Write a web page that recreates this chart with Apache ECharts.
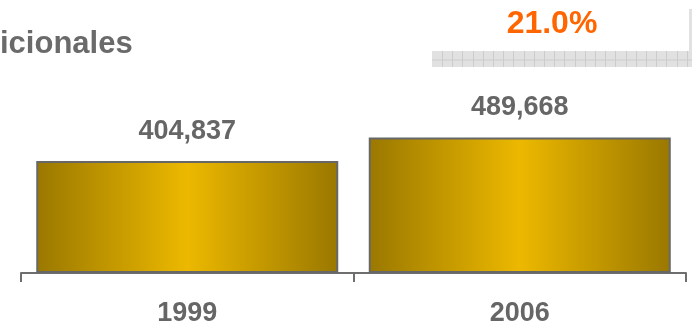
<!DOCTYPE html>
<html>
<head>
<meta charset="utf-8">
<script src="https://cdn.jsdelivr.net/npm/echarts@6/dist/echarts.min.js"></script>
<style>
  html, body { margin: 0; padding: 0; background: #fff; }
  #chart { width: 692px; height: 329px; }
</style>
</head>
<body>
<div id="chart"></div>
<script>
// datos
const years = ['1999', '2006'];
const empleos = [404837, 489668];
const crecimiento = '21.0%';
const tituloTxt = 'icionales';

const chart = echarts.init(document.getElementById('chart'));

// fondo cuadriculado gris (decoracion arriba a la derecha)
const deco = [
  { type: 'rect', shape: { x: 432, y: 51, width: 260, height: 16 }, style: { fill: '#e1e1e1' }, silent: true },
  { type: 'rect', shape: { x: 689, y: 9, width: 3, height: 42 }, style: { fill: '#e1e1e1' }, silent: true },
  { type: 'line', shape: { x1: 432, y1: 60, x2: 692, y2: 60 }, style: { stroke: '#cccccc', lineWidth: 1 }, silent: true }
];
for (let x = 442; x < 692; x += 10.2) {
  deco.push({ type: 'line', shape: { x1: Math.round(x) + 0.5, y1: 51, x2: Math.round(x) + 0.5, y2: 67 }, style: { stroke: '#cccccc', lineWidth: 1 }, silent: true });
}

const option = {
  animation: false,
  backgroundColor: '#ffffff',
  textStyle: { fontFamily: 'Liberation Sans, Arial, sans-serif' },
  graphic: deco.concat([
    {
      type: 'text', left: 0, top: 29,
      style: { text: tituloTxt, fill: '#6a6a6a', font: 'bold 31px "Liberation Sans", Arial, sans-serif' }
    },
    {
      type: 'text', x: 552, y: 24,
      style: { text: crecimiento, fill: '#ff6600', align: 'center', verticalAlign: 'middle', font: 'bold 32px "Liberation Sans", Arial, sans-serif' }
    }
  ]),
  grid: { left: 21, right: 6, top: 93, bottom: 56 },
  xAxis: {
    type: 'category',
    data: years,
    axisLine: { lineStyle: { color: '#6e6e6e', width: 2 } },
    axisTick: { show: true, length: 9, lineStyle: { color: '#6e6e6e', width: 2 } },
    axisLabel: { color: '#666666', fontSize: 27, fontWeight: 'bold', margin: 27 }
  },
  yAxis: {
    type: 'value',
    min: 0,
    max: 650000,
    show: false
  },
  series: [{
    type: 'bar',
    data: empleos,
    barWidth: 302,
    itemStyle: {
      color: new echarts.graphic.LinearGradient(0, 0, 1, 0, [
        { offset: 0, color: '#9a7800' },
        { offset: 0.5, color: '#ecb800' },
        { offset: 1, color: '#9a7800' }
      ]),
      borderColor: '#676767',
      borderWidth: 2
    },
    label: {
      show: true,
      position: 'top',
      distance: 16,
      color: '#666666',
      fontSize: 27,
      fontWeight: 'bold',
      formatter: p => p.value.toLocaleString('en-US')
    }
  }]
};

chart.setOption(option);
</script>
</body>
</html>
